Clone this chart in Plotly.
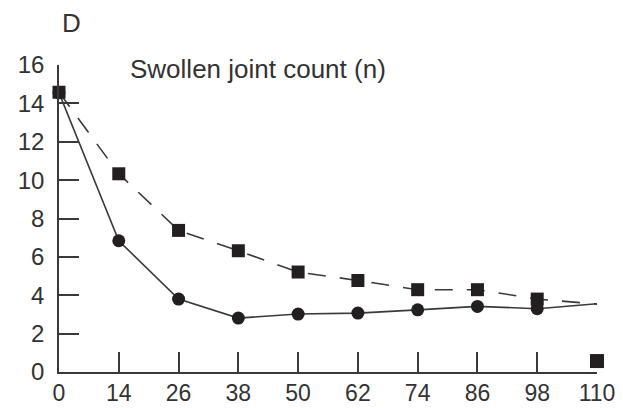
import plotly.graph_objects as go

weeks = ["0", "14", "26", "38", "50", "62", "74", "86", "98", "110"]
# solid series (circles); last point has no marker
solid_vals = [14.55, 6.84, 3.8, 2.81, 3.02, 3.07, 3.24, 3.42, 3.3, 3.56]
# dashed series (squares); last point has no marker
dashed_vals = [14.58, 10.33, 7.38, 6.32, 5.21, 4.77, 4.29, 4.29, 3.8, 3.54]
# isolated square at week 110
extra_week = ["110"]
extra_val = [0.57]

ink = "#231f20"
axis_col = "#3a3a3a"
font_family = "Liberation Sans, Arial, sans-serif"

fig = go.Figure()
fig.add_trace(go.Scatter(x=weeks, y=dashed_vals, mode="lines",
                         line=dict(color="#3a3a3a", width=1.6, dash="18px,14px"),
                         cliponaxis=False, hoverinfo="skip"))
fig.add_trace(go.Scatter(x=weeks, y=solid_vals, mode="lines",
                         line=dict(color="#3a3a3a", width=1.6),
                         cliponaxis=False, hoverinfo="skip"))
fig.add_trace(go.Scatter(x=weeks[:-1], y=solid_vals[:-1], mode="markers",
                         marker=dict(symbol="circle", size=13, color=ink),
                         cliponaxis=False))
fig.add_trace(go.Scatter(x=weeks[:-1], y=dashed_vals[:-1], mode="markers",
                         marker=dict(symbol="square", size=13, color=ink),
                         cliponaxis=False))
fig.add_trace(go.Scatter(x=extra_week, y=extra_val, mode="markers",
                         marker=dict(symbol="square", size=14, color=ink),
                         cliponaxis=False))

fig.update_layout(
    width=623, height=408,
    margin=dict(l=59, r=26, t=65, b=36),
    paper_bgcolor="white", plot_bgcolor="white",
    showlegend=False,
    font=dict(family=font_family, size=23, color="#333333"),
    xaxis=dict(type="category", categoryorder="array", categoryarray=weeks,
               range=[0, 9], showgrid=False, zeroline=False, automargin=False,
               showline=True, linecolor=axis_col, linewidth=1.6,
               ticks="inside", ticklen=20, tickwidth=1.6, tickcolor=axis_col,
               ticklabelstandoff=0,
               tickfont=dict(size=23, color="#333333")),
    yaxis=dict(range=[0, 16], tickvals=[0, 2, 4, 6, 8, 10, 12, 14, 16],
               showgrid=False, zeroline=False, automargin=False,
               showline=True, linecolor=axis_col, linewidth=1.6,
               ticks="inside", ticklen=20, tickwidth=1.6, tickcolor=axis_col,
               ticklabelstandoff=8,
               tickfont=dict(size=24, color="#333333")),
    annotations=[
        dict(text="D", xref="paper", yref="paper", x=(71 - 59) / 538, y=(372 - 23) / 307,
             xanchor="center", yanchor="middle", showarrow=False,
             font=dict(size=26, color="#333333")),
        dict(text="Swollen joint count (n)", xref="paper", yref="paper",
             x=(128 - 59) / 538, y=(372 - 69) / 307, xanchor="left", yanchor="middle",
             showarrow=False, font=dict(size=26, color="#333333")),
    ],
)

fig.write_html("out.html")
